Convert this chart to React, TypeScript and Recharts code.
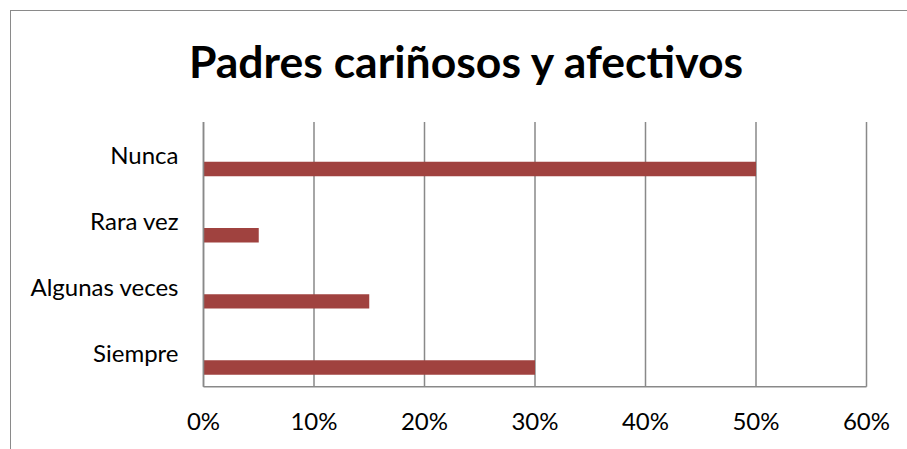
import { BarChart, Bar, XAxis, YAxis, CartesianGrid } from "recharts";

const categories = ["Nunca", "Rara vez", "Algunas veces", "Siempre"];
// the source sheet had two empty series before the real one
const serie1 = [null, null, null, null];
const serie2 = [null, null, null, null];
const serie3 = [50, 5, 15, 30];
const xTicks = [0, 10, 20, 30, 40, 50, 60];

const data = categories.map((name, i) => ({
  name,
  s1: serie1[i],
  s2: serie2[i],
  s3: serie3[i],
}));

const font = "Lato, 'Noto Sans', sans-serif";

export default function App() {
  return (
    <div
      style={{
        position: "absolute",
        left: 0,
        top: 0,
        width: 907,
        height: 449,
        overflow: "hidden",
        background: "#fff",
        fontFamily: font,
      }}
    >
      <div
        style={{
          position: "absolute",
          left: 10,
          top: 10,
          width: 1000,
          height: 1000,
          border: "1px solid #8a8a8a",
        }}
      />
      <div
        style={{
          position: "absolute",
          left: 0,
          width: 932,
          top: 34,
          textAlign: "center",
          fontSize: 44.5,
          fontWeight: 700,
          color: "#000",
        }}
      >
        Padres cariñosos y afectivos
      </div>
      <BarChart
        width={907}
        height={449}
        data={data}
        layout="vertical"
        margin={{ top: 122, right: 40.5, bottom: 0, left: 0 }}
        barSize={14.4}
        barGap={0}
        style={{ position: "absolute", left: 0, top: 0 }}
      >
        <CartesianGrid horizontal={false} stroke="#898989" strokeWidth={1.5} />
        <XAxis
          type="number"
          domain={[0, 60]}
          ticks={xTicks}
          tickFormatter={(v) => `${v}%`}
          axisLine={{ stroke: "#898989", strokeWidth: 1.5 }}
          tickLine={false}
          tickSize={0}
          tickMargin={26}
          tick={{ fill: "#000", fontSize: 24, fontFamily: font }}
          height={62.3}
        />
        <YAxis
          type="category"
          dataKey="name"
          width={203.5}
          axisLine={{ stroke: "#898989", strokeWidth: 1.5 }}
          tickLine={false}
          tickSize={0}
          tickMargin={25}
          tick={{ fill: "#000", fontSize: 24, fontFamily: font }}
        />
        <Bar dataKey="s1" fill="#A0423F" isAnimationActive={false} />
        <Bar dataKey="s2" fill="#A0423F" isAnimationActive={false} />
        <Bar dataKey="s3" fill="#A0423F" isAnimationActive={false} />
      </BarChart>
    </div>
  );
}
